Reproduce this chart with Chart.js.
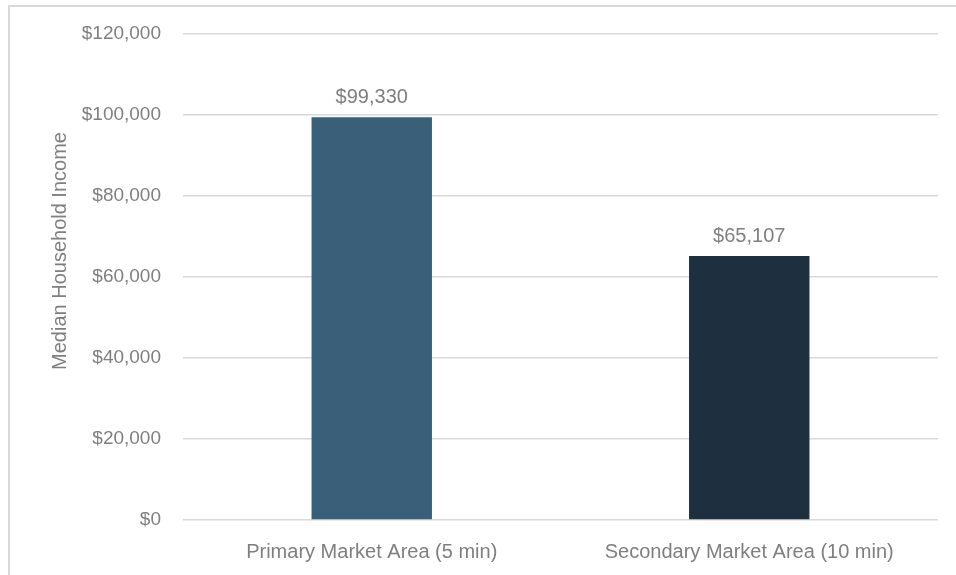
<!DOCTYPE html>
<html>
<head>
<meta charset="utf-8">
<script src="https://cdn.jsdelivr.net/npm/chart.js@4.4.1/dist/chart.umd.min.js"></script>
<style>
  html, body { margin: 0; padding: 0; background: #fff; }
  body { width: 956px; height: 575px; overflow: hidden; position: relative; }
  #frame { position: absolute; left: 8px; top: 5px; width: 1000px; height: 700px;
           border-left: 2px solid #d9d9d9; border-top: 2px solid #d9d9d9; box-sizing: border-box; }
  #wrap { position: absolute; left: 0; top: 0; width: 956px; height: 575px; }
</style>
</head>
<body>
<div id="frame"></div>
<div id="wrap"><canvas id="c" width="956" height="575"></canvas></div>
<script>
const categories = ["Primary Market Area (5 min)", "Secondary Market Area (10 min)"];
const incomeValues = [99330, 65107];
const barColors = ["#3a6079", "#1e3040"];
const yTicks = [0, 20000, 40000, 60000, 80000, 100000, 120000];
const yTitle = "Median Household Income";

const FONT = "'Liberation Sans', Arial, sans-serif";
const TEXT = "#7f7f7f";
const fmt = v => "$" + v.toLocaleString("en-US");

const valueLabels = {
  id: "valueLabels",
  afterDatasetsDraw(chart) {
    const ctx = chart.ctx;
    const meta = chart.getDatasetMeta(0);
    ctx.save();
    ctx.font = "20px " + FONT;
    ctx.fillStyle = TEXT;
    ctx.textAlign = "center";
    ctx.textBaseline = "middle";
    meta.data.forEach((bar, i) => {
      ctx.fillText(fmt(incomeValues[i]), bar.x, bar.y - 20);
    });
    // y-axis title (placed like the reference, above the plot's vertical centre)
    ctx.translate(60, 251);
    ctx.rotate(-Math.PI / 2);
    ctx.fillText(yTitle, 0, 0);
    ctx.restore();
  }
};

new Chart(document.getElementById("c"), {
  type: "bar",
  data: {
    labels: categories,
    datasets: [{
      data: incomeValues,
      backgroundColor: barColors,
      borderWidth: 0,
      categoryPercentage: 1,
      barPercentage: 0.319
    }]
  },
  options: {
    responsive: false,
    animation: false,
    layout: { padding: { left: 40, right: 18, top: 30, bottom: 0 } },
    plugins: { legend: { display: false }, tooltip: { enabled: false } },
    scales: {
      x: {
        grid: { display: false },
        border: { display: false },
        ticks: { color: TEXT, font: { family: FONT, size: 20 }, padding: 12, maxRotation: 0 },
        afterFit(s) { s.height = 55; }
      },
      y: {
        min: 0, max: 120000,
        afterBuildTicks(s) { s.ticks = yTicks.map(v => ({ value: v })); },
        grid: { color: "#d9d9d9", lineWidth: 1.5, drawTicks: false },
        border: { display: false },
        ticks: { color: TEXT, font: { family: FONT, size: 19 }, padding: 22, callback: v => fmt(v) },
        afterFit(s) { s.width = 143; }
      }
    }
  },
  plugins: [valueLabels]
});
</script>
</body>
</html>
